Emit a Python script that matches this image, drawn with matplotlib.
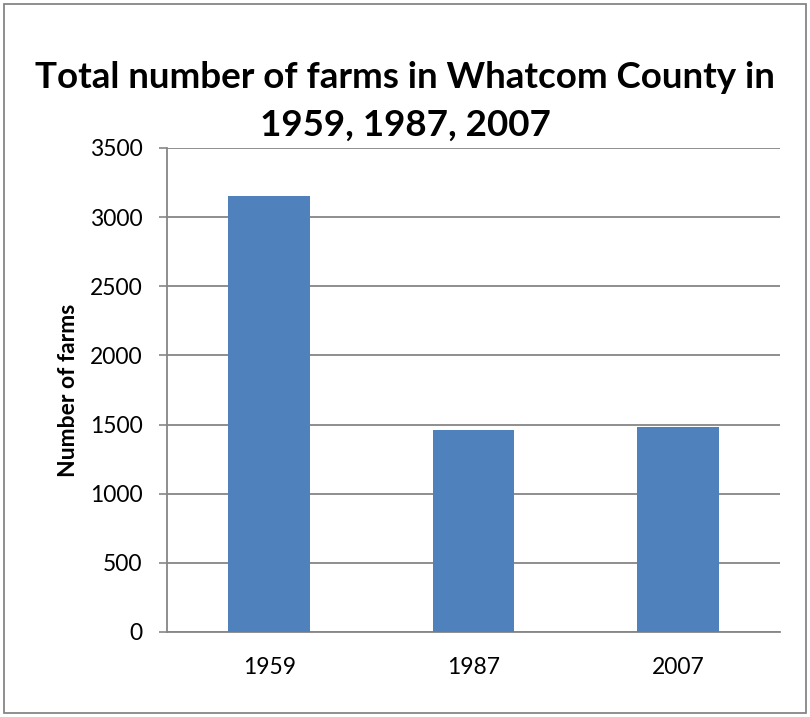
import matplotlib.pyplot as plt
import numpy as np
from matplotlib.patches import Rectangle

years = ['1959', '1987', '2007']
farms = [3150, 1462, 1485]
yticks = [0, 500, 1000, 1500, 2000, 2500, 3000, 3500]

plt.rcParams['font.family'] = ['Lato', 'DejaVu Sans']

fig = plt.figure(figsize=(8.1, 7.17), dpi=100)
ax = fig.add_axes([167 / 810, 1 - 632 / 717, (780 - 167) / 810, (632 - 148) / 717])

x = np.arange(len(years))
ax.bar(x, farms, width=0.4, color='#4F81BD', zorder=3)

ax.set_xlim(-0.5, 2.5)
ax.set_ylim(0, 3500)
ax.set_yticks(yticks)
ax.set_xticks(x)
ax.set_xticklabels(years)
ax.tick_params(axis='y', length=5.5, color='#868686', width=1.2, labelsize=16.5, pad=12)
ax.tick_params(axis='x', length=0, labelsize=16.5, pad=18)
ax.grid(axis='y', color='#868686', linewidth=1.3, zorder=0)

for s in ['top', 'right']:
    ax.spines[s].set_visible(False)
for s in ['left', 'bottom']:
    ax.spines[s].set_color('#868686')
    ax.spines[s].set_linewidth(1.3)

ax.set_ylabel('Number of farms', fontsize=16.5, fontweight='bold', labelpad=8)

fig.text(0.5, 1 - 78 / 717, 'Total number of farms in Whatcom County in',
         ha='center', va='center', fontsize=26.5, fontweight='bold')
fig.text(0.5, 1 - 125 / 717, '1959, 1987, 2007',
         ha='center', va='center', fontsize=26.5, fontweight='bold')

# outer chart border
fig.patches.append(Rectangle((4 / 810, 4 / 717), 802 / 810, 709 / 717,
                             transform=fig.transFigure, fill=False,
                             edgecolor='#868686', linewidth=1.3))

fig.savefig('out.png', dpi=100)
